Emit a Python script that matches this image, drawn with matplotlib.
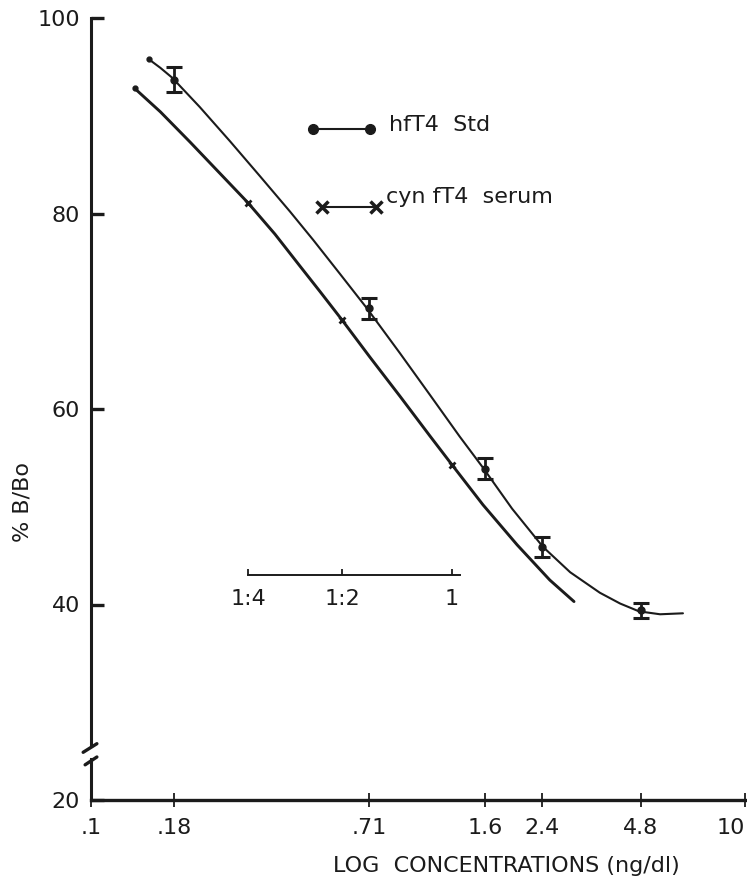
import matplotlib
matplotlib.use("Agg")
import matplotlib.pyplot as plt
from matplotlib.ticker import NullLocator

### data ###

# hfT4 standard: measured means with error bars
std_x = [0.18, 0.71, 1.6, 2.4, 4.8]
std_y = [93.7, 70.3, 53.9, 45.9, 39.4]
std_err = [1.3, 1.1, 1.1, 1.0, 0.8]

# hand drawn curve through the standards
std_curve_x = [0.150, 0.163, 0.177, 0.215, 0.266, 0.329, 0.406, 0.478, 0.578, 0.698, 0.881,
               1.09, 1.34, 1.58, 1.94, 2.41, 2.92, 3.60, 4.15, 4.74, 5.50, 6.46]
std_curve_y = [95.8, 94.9, 93.9, 90.9, 87.4, 83.8, 80.2, 77.3, 73.8, 70.3, 65.7,
               61.4, 57.2, 54.0, 49.8, 45.9, 43.3, 41.2, 40.1, 39.3, 39.0, 39.1]

# cyn fT4 serum dilutions (1:4, 1:2, 1)
serum_x = [0.302, 0.586, 1.27]
serum_y = [81.1, 69.1, 54.3]
dil_labels = ["1:4", "1:2", "1"]
dil_end = 1.34

serum_curve_x = [0.136, 0.163, 0.201, 0.248, 0.302, 0.365, 0.436, 0.502, 0.586, 0.713, 0.881,
                 1.09, 1.27, 1.58, 2.01, 2.53, 3.00]
serum_curve_y = [92.8, 90.4, 87.3, 84.1, 81.1, 77.9, 74.6, 72.0, 69.1, 65.3, 61.3,
                 57.2, 54.3, 50.2, 46.1, 42.5, 40.3]

x_ticks = [0.1, 0.18, 0.71, 1.6, 2.4, 4.8, 10]
x_ticklabels = [".1", ".18", ".71", "1.6", "2.4", "4.8", "10"]
y_ticks = [20, 40, 60, 80, 100]

ink = "#1b1b1b"
fs = 16

### figure ###

fig = plt.figure(figsize=(7.47, 8.86), dpi=100)
ax = fig.add_axes([91 / 747, 86 / 886, 654 / 747, 782 / 886])
ax.set_xscale("log")
ax.set_xlim(0.1, 10)
ax.set_ylim(20, 100)

for s in ["top", "right"]:
    ax.spines[s].set_visible(False)
ax.spines["left"].set_linewidth(2.2)
ax.spines["bottom"].set_linewidth(2.4)
ax.spines["left"].set_color(ink)
ax.spines["bottom"].set_color(ink)
ax.spines["left"].set_bounds(25.5, 100)

# lower stub of the broken y axis plus the break strokes
ax.plot([0, 0], [0, 0.052], transform=ax.transAxes, color=ink, lw=2.2, clip_on=False)
ax.plot([-0.012, 0.009], [0.061, 0.072], transform=ax.transAxes, color=ink, lw=2.4,
        clip_on=False, solid_capstyle="round")
ax.plot([-0.009, 0.009], [0.045, 0.055], transform=ax.transAxes, color=ink, lw=2.4,
        clip_on=False, solid_capstyle="round")

ax.set_xticks(x_ticks, x_ticklabels)
ax.xaxis.set_minor_locator(NullLocator())
ax.set_yticks(y_ticks, [str(v) for v in y_ticks])
ax.tick_params(axis="x", direction="inout", length=10, width=1.3, pad=8,
               labelsize=fs, colors=ink)
ax.tick_params(axis="y", direction="in", length=9, width=2.4, pad=8,
               labelsize=fs, colors=ink)
# last label sits on the page edge, keep it inside
ax.get_xticklabels()[-1].set_horizontalalignment("right")

# curves
ax.plot(std_curve_x, std_curve_y, color=ink, lw=1.5, solid_capstyle="round")
ax.plot(serum_curve_x, serum_curve_y, color=ink, lw=2.1, solid_capstyle="round")
ax.plot(std_curve_x[:1], std_curve_y[:1], "o", color=ink, ms=3.5)
ax.plot(serum_curve_x[:1], serum_curve_y[:1], "o", color=ink, ms=3.5)

# standard points with error bars
ax.errorbar(std_x, std_y, yerr=std_err, fmt="o", ms=5, color=ink, ecolor=ink,
            elinewidth=2.0, capsize=6, capthick=2.2)
# serum points
ax.plot(serum_x, serum_y, "x", color=ink, ms=5, mew=2)

# hand drawn key
ax.plot([0.339, 0.427], [0.858, 0.858], transform=ax.transAxes, color=ink, lw=1.5,
        marker="o", ms=7)
ax.text(0.455, 0.863, "hfT4  Std", transform=ax.transAxes, va="center", ha="left",
        fontsize=fs, color=ink)
ax.plot([0.353, 0.436], [0.758, 0.758], transform=ax.transAxes, color=ink, lw=1.5,
        marker="x", ms=8, mew=2.5)
ax.text(0.451, 0.771, "cyn fT4  serum", transform=ax.transAxes, va="center", ha="left",
        fontsize=fs, color=ink)

# dilution scale drawn inside the plot
dil = ax.secondary_xaxis(0.2877)
dil.set_xticks(serum_x, dil_labels)
dil.xaxis.set_minor_locator(NullLocator())
dil.spines["bottom"].set_bounds(serum_x[0], dil_end)
dil.spines["bottom"].set_linewidth(1.4)
dil.spines["bottom"].set_color(ink)
dil.tick_params(axis="x", direction="in", length=4, width=1.3, pad=10,
                labelsize=fs, colors=ink)

ax.set_xlabel("LOG  CONCENTRATIONS (ng/dl)", fontsize=fs, color=ink)
ax.xaxis.set_label_coords(0.635, -0.072)
ax.set_ylabel("% B/Bo", fontsize=fs, color=ink, va="center")
ax.yaxis.set_label_coords(-0.104, 0.381)

fig.savefig("out.png", dpi=100, facecolor="white")
